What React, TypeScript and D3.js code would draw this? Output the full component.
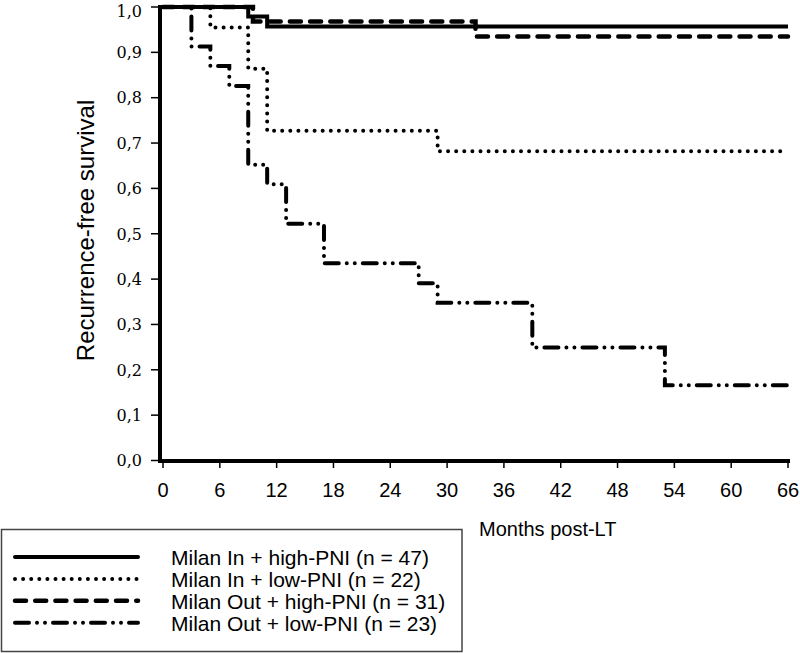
import React from "react";
import * as d3 from "d3";

const xTicks = [0, 6, 12, 18, 24, 30, 36, 42, 48, 54, 60, 66];
const yTicks = [0, 0.1, 0.2, 0.3, 0.4, 0.5, 0.6, 0.7, 0.8, 0.9, 1.0];

const seriesNames = [
  "Milan In + high-PNI (n = 47)",
  "Milan In + low-PNI (n = 22)",
  "Milan Out + high-PNI (n = 31)",
  "Milan Out + low-PNI (n = 23)",
];

const inHighTimes = [0, 9, 11, 66];
const inHighVals = [1, 0.979, 0.957, 0.957];

const inLowTimes = [0, 5, 9, 11, 29, 66];
const inLowVals = [1, 0.955, 0.864, 0.727, 0.682, 0.682];

const outHighTimes = [0, 9.5, 33, 66];
const outHighVals = [1, 0.968, 0.935, 0.935];

const outLowTimes = [0, 3, 5, 7, 9, 11, 13, 17, 27, 29, 39, 53, 66];
const outLowVals = [1, 0.913, 0.87, 0.826, 0.652, 0.609, 0.522, 0.435, 0.391, 0.348, 0.249, 0.166, 0.166];

const styles = [
  { w: 4, dash: "", cap: "butt" },
  { w: 4, dash: "0 8.1", cap: "round" },
  { w: 4.5, dash: "11 9.2", cap: "round" },
  { w: 4, dash: "14 8 0 8 0 8", cap: "round" },
];

export default function App() {
  const x = d3.scaleLinear().domain([0, 66]).range([163, 788]);
  const y = d3.scaleLinear().domain([0, 1]).range([460.5, 7]);

  const series = [
    { t: inHighTimes, v: inHighVals },
    { t: inLowTimes, v: inLowVals },
    { t: outHighTimes, v: outHighVals },
    { t: outLowTimes, v: outLowVals },
  ];

  const line = d3
    .line<[number, number]>()
    .x((d) => x(d[0]))
    .y((d) => y(d[1]))
    .curve(d3.curveStepAfter);

  const legendBase = 565;
  const legendStep = 21.9;

  return (
    <svg
      width={800}
      height={653}
      style={{ position: "absolute", left: 0, top: 0, background: "#fff" }}
    >
      {/* curves */}
      {series.map((s, i) => (
        <path
          key={i}
          d={line(s.t.map((t, j) => [t, s.v[j]] as [number, number])) || ""}
          fill="none"
          stroke="#000"
          strokeWidth={styles[i].w}
          strokeDasharray={styles[i].dash || undefined}
          strokeLinecap={styles[i].cap as any}
        />
      ))}

      {/* y axis */}
      <line x1={160} x2={160} y1={5} y2={463} stroke="#000" strokeWidth={4} />
      {yTicks.map((t) => (
        <g key={t}>
          <line x1={151} x2={160} y1={y(t)} y2={y(t)} stroke="#000" strokeWidth={1.5} />
          <text
            x={142}
            y={Math.max(y(t), 11.5)}
            dy="0.36em"
            textAnchor="end"
            fontFamily="'DejaVu Serif', serif"
            fontSize={16}
            fill="#000"
          >
            {t.toFixed(1).replace(".", ",")}
          </text>
        </g>
      ))}

      {/* x axis */}
      <line x1={158} x2={790} y1={461} y2={461} stroke="#000" strokeWidth={4} />
      {xTicks.map((t) => (
        <g key={t}>
          <line x1={x(t)} x2={x(t)} y1={461} y2={468} stroke="#000" strokeWidth={1.5} />
          <text
            x={x(t)}
            y={497}
            textAnchor="middle"
            fontFamily="'Liberation Sans', Arial, sans-serif"
            fontSize={20}
            fill="#000"
          >
            {t}
          </text>
        </g>
      ))}

      {/* axis titles */}
      <text
        transform="translate(94,230.5) rotate(-90)"
        textAnchor="middle"
        fontFamily="'Liberation Sans', Arial, sans-serif"
        fontSize={24}
        fill="#000"
      >
        Recurrence-free survival
      </text>
      <text
        x={479}
        y={536}
        fontFamily="'Liberation Sans', Arial, sans-serif"
        fontSize={20}
        fill="#000"
      >
        Months post-LT
      </text>

      {/* legend */}
      <rect x={1.5} y={529.5} width={460.5} height={122} fill="#fff" stroke="#444" strokeWidth={1.5} />
      {seriesNames.map((name, i) => {
        const base = legendBase + i * legendStep;
        return (
          <g key={name}>
            <line
              x1={15}
              x2={138}
              y1={base - 8}
              y2={base - 8}
              stroke="#000"
              strokeWidth={styles[i].w}
              strokeDasharray={styles[i].dash || undefined}
              strokeLinecap={(i === 0 ? "round" : styles[i].cap) as any}
            />
            <text
              x={171}
              y={base}
              fontFamily="'Liberation Sans', Arial, sans-serif"
              fontSize={21}
              fill="#000"
            >
              {name}
            </text>
          </g>
        );
      })}
    </svg>
  );
}
